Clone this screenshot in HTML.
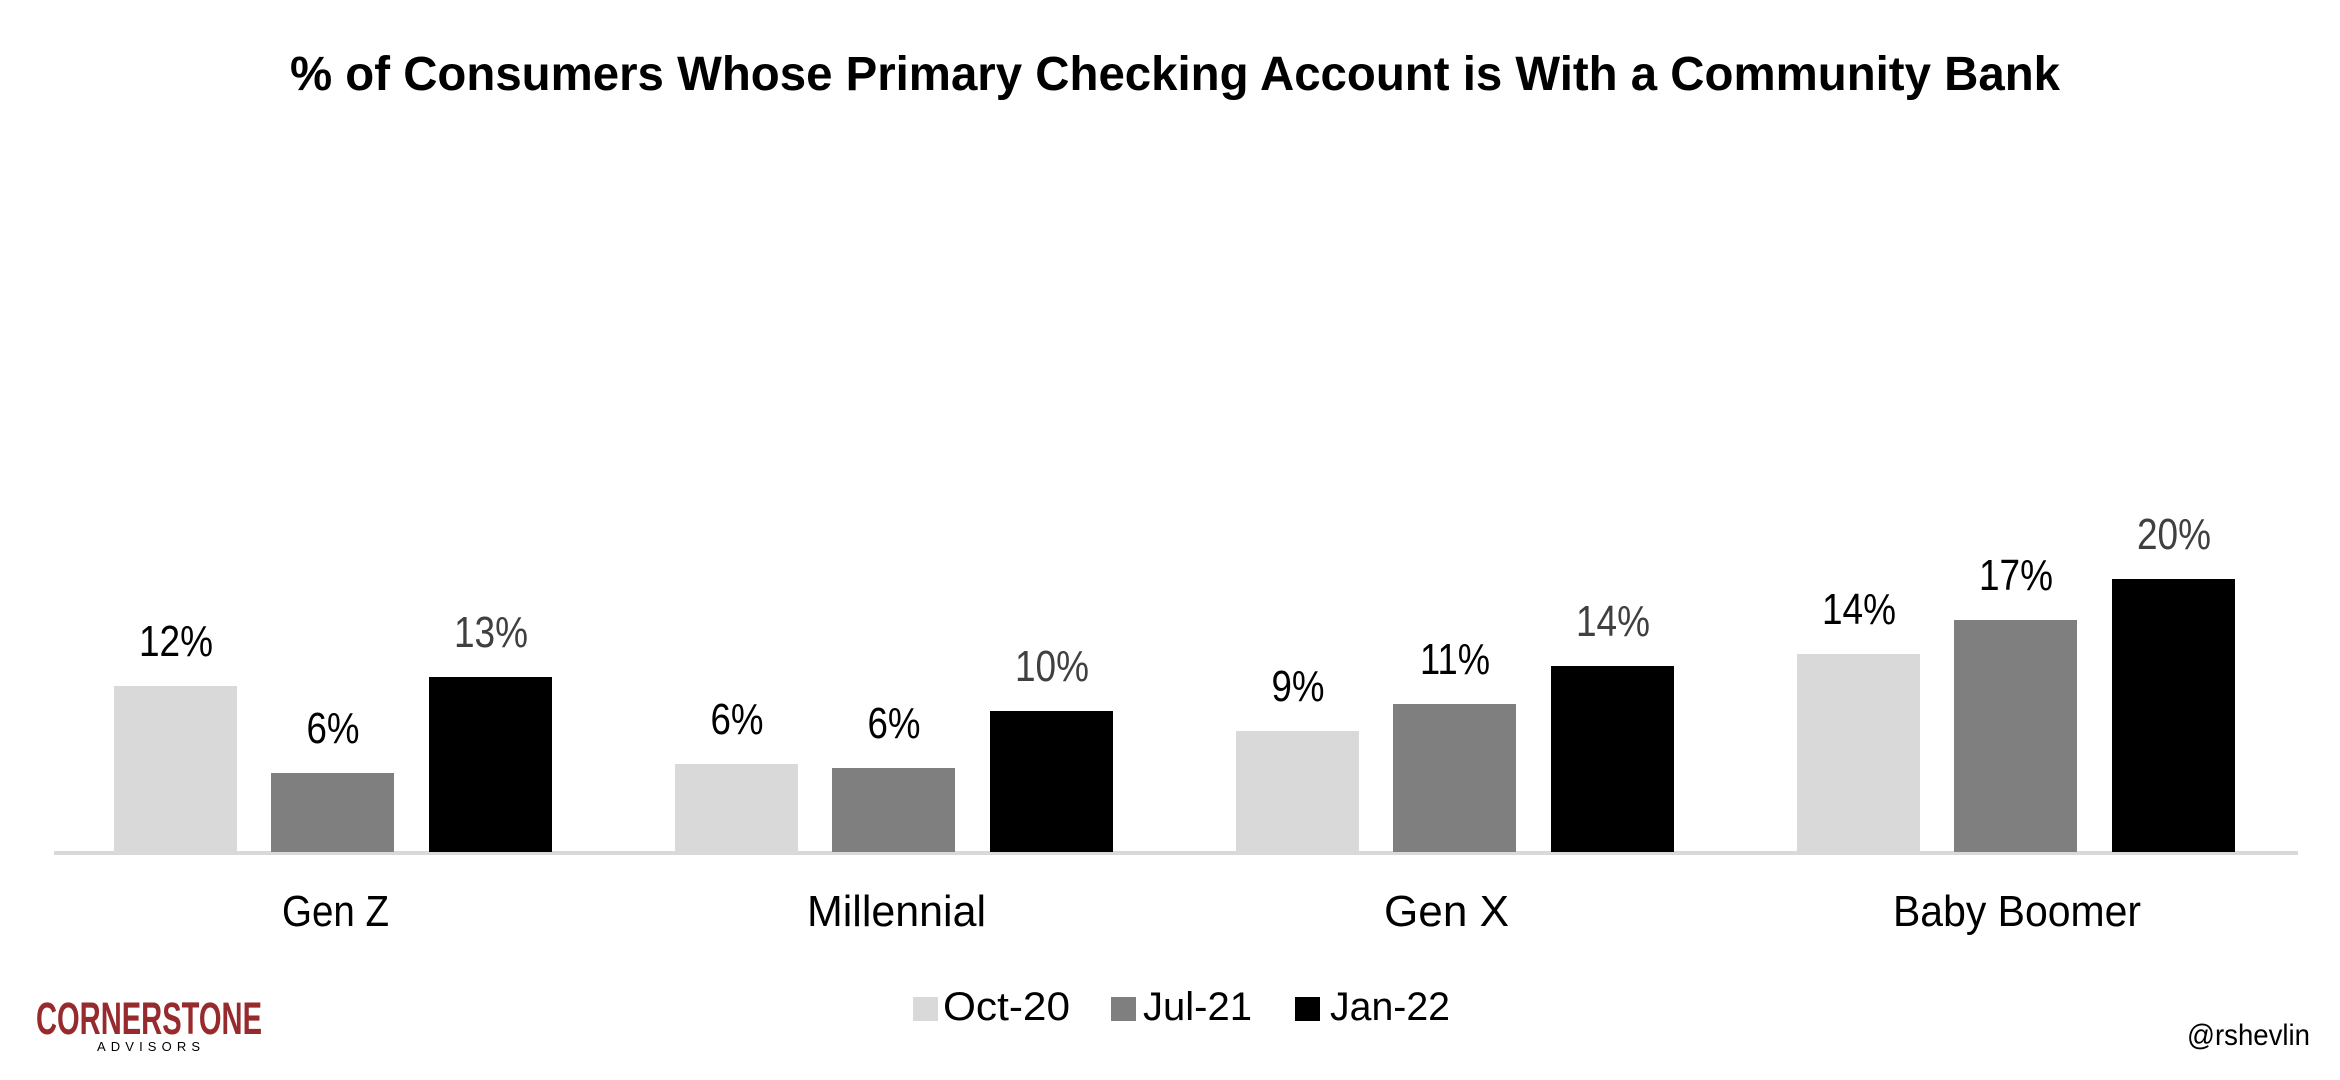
<!DOCTYPE html>
<html><head><meta charset="utf-8"><style>
html,body{margin:0;padding:0;background:#fff;}
svg{display:block;}
text{font-family:"Liberation Sans Narrow","Liberation Sans",sans-serif;}
</style></head><body>
<svg width="2340" height="1080" viewBox="0 0 2340 1080" xmlns="http://www.w3.org/2000/svg">
<rect width="2340" height="1080" fill="#fff"/>
<text x="1175" y="90" text-anchor="middle" font-size="48" font-weight="bold" fill="#000" textLength="1770" lengthAdjust="spacingAndGlyphs" style="font-family:'Liberation Sans',sans-serif">% of Consumers Whose Primary Checking Account is With a Community Bank</text>
<g transform="translate(0,-4)">
<rect x="54" y="855" width="2244" height="4" fill="#d9d9d9"/>
<g>
<rect x="114" y="690" width="123" height="166" fill="#d9d9d9"/>
<rect x="271" y="777" width="123" height="79" fill="#7f7f7f"/>
<rect x="429" y="681" width="123" height="175" fill="#000"/>
<rect x="675" y="768" width="123" height="88" fill="#d9d9d9"/>
<rect x="832" y="772" width="123" height="84" fill="#7f7f7f"/>
<rect x="990" y="715" width="123" height="141" fill="#000"/>
<rect x="1236" y="735" width="123" height="121" fill="#d9d9d9"/>
<rect x="1393" y="708" width="123" height="148" fill="#7f7f7f"/>
<rect x="1551" y="670" width="123" height="186" fill="#000"/>
<rect x="1797" y="658" width="123" height="198" fill="#d9d9d9"/>
<rect x="1954" y="624" width="123" height="232" fill="#7f7f7f"/>
<rect x="2112" y="583" width="123" height="273" fill="#000"/>
</g>
<g font-size="44" text-anchor="middle">
<text x="176" y="660" fill="#000" textLength="74" lengthAdjust="spacingAndGlyphs">12%</text>
<text x="333" y="747" fill="#000" textLength="53" lengthAdjust="spacingAndGlyphs">6%</text>
<text x="491" y="651" fill="#404040" textLength="74" lengthAdjust="spacingAndGlyphs">13%</text>
<text x="737" y="738" fill="#000" textLength="53" lengthAdjust="spacingAndGlyphs">6%</text>
<text x="894" y="742" fill="#000" textLength="53" lengthAdjust="spacingAndGlyphs">6%</text>
<text x="1052" y="685" fill="#404040" textLength="74" lengthAdjust="spacingAndGlyphs">10%</text>
<text x="1298" y="705" fill="#000" textLength="53" lengthAdjust="spacingAndGlyphs">9%</text>
<text x="1455" y="678" fill="#000" textLength="70" lengthAdjust="spacingAndGlyphs">11%</text>
<text x="1613" y="640" fill="#404040" textLength="74" lengthAdjust="spacingAndGlyphs">14%</text>
<text x="1859" y="628" fill="#000" textLength="74" lengthAdjust="spacingAndGlyphs">14%</text>
<text x="2016" y="594" fill="#000" textLength="74" lengthAdjust="spacingAndGlyphs">17%</text>
<text x="2174" y="553" fill="#404040" textLength="74" lengthAdjust="spacingAndGlyphs">20%</text>
</g>
</g>
<g font-size="44" fill="#000">
<text x="282" y="926" textLength="107" lengthAdjust="spacingAndGlyphs">Gen Z</text>
<text x="807" y="926" textLength="179" lengthAdjust="spacingAndGlyphs">Millennial</text>
<text x="1384" y="926" textLength="125" lengthAdjust="spacingAndGlyphs">Gen X</text>
<text x="1893" y="926" textLength="248" lengthAdjust="spacingAndGlyphs">Baby Boomer</text>
</g>
<g font-size="40" fill="#000">
<rect x="913" y="997" width="25" height="24" fill="#d9d9d9"/>
<text x="943" y="1020" textLength="127" lengthAdjust="spacingAndGlyphs">Oct-20</text>
<rect x="1111" y="997" width="25" height="24" fill="#7f7f7f"/>
<text x="1143" y="1020" textLength="109" lengthAdjust="spacingAndGlyphs">Jul-21</text>
<rect x="1295" y="997" width="25" height="24" fill="#000"/>
<text x="1330" y="1020" textLength="120" lengthAdjust="spacingAndGlyphs">Jan-22</text>
</g>
<text x="2187" y="1045" font-size="30" fill="#000" textLength="123" lengthAdjust="spacingAndGlyphs">@rshevlin</text>
<text x="36" y="1034" font-size="45" font-weight="bold" fill="#962a2d" textLength="226" lengthAdjust="spacingAndGlyphs">CORNERSTONE</text>
<text x="97" y="1051" font-size="13" fill="#000" textLength="103" lengthAdjust="spacing" style="font-family:'Liberation Sans',sans-serif">ADVISORS</text>
</svg>
</body></html>
